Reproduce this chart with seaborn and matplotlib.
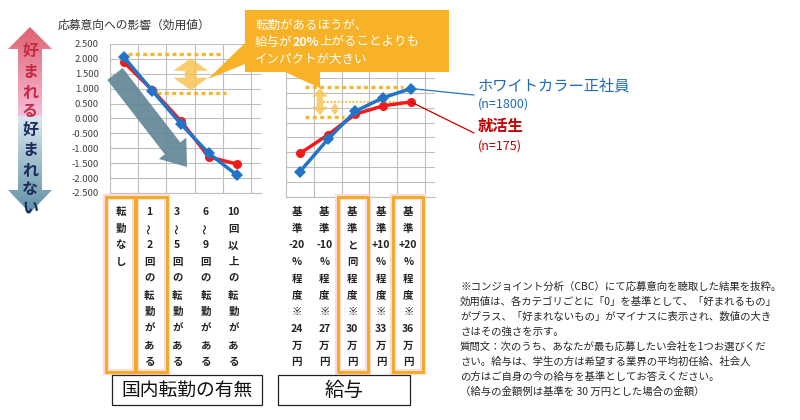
import numpy as np
import pandas as pd
import matplotlib.pyplot as plt
import matplotlib.patches as mpatches
import seaborn as sns

# utility values
groups = ['ホワイトカラー正社員', '就活生']
group_n = ['(n=1800)', '(n=175)']

transfer_levels = ['転勤なし', '1~2回', '3~5回', '6~9回', '10回以上']
transfer_white = [2.05, 0.93, -0.17, -1.17, -1.90]
transfer_student = [1.88, 0.95, -0.07, -1.29, -1.53]

salary_levels = ['基準-20%', '基準-10%', '基準と同程度', '基準+10%', '基準+20%']
salary_white = [-1.65, -0.57, 0.38, 0.83, 1.14]
salary_student = [-1.04, -0.42, 0.28, 0.56, 0.69]

# vertical category labels, one token per row
transfer_tokens = [
    ['転', '勤', 'な', 'し'],
    ['1', '～', '2', '回', 'の', '転', '勤', 'が', 'あ', 'る'],
    ['3', '～', '5', '回', 'の', '転', '勤', 'が', 'あ', 'る'],
    ['6', '～', '9', '回', 'の', '転', '勤', 'が', 'あ', 'る'],
    ['10', '回', '以', '上', 'の', '転', '勤', 'が', 'あ', 'る'],
]
salary_tokens = [
    ['基', '準', '-20', '%', '程', '度', '※', '24', '万', '円'],
    ['基', '準', '-10', '%', '程', '度', '※', '27', '万', '円'],
    ['基', '準', 'と', '同', '程', '度', '※', '30', '万', '円'],
    ['基', '準', '+10', '%', '程', '度', '※', '33', '万', '円'],
    ['基', '準', '+20', '%', '程', '度', '※', '36', '万', '円'],
]
chart_titles = ['国内転勤の有無', '給与']
y_title = '応募意向への影響（効用値）'
callout_lines = ['転勤があるほうが、', '給与が', '20%', '上がることよりも', 'インパクトが大きい']
note_lines = [
    '※コンジョイント分析（CBC）にて応募意向を聴取した結果を抜粋。',
    '効用値は、各カテゴリごとに「0」を基準として、「好まれるもの」',
    'がプラス、「好まれないもの」がマイナスに表示され、数値の大き',
    'さはその強さを示す。',
    '質問文：次のうち、あなたが最も応募したい会社を1つお選びくだ',
    'さい。給与は、学生の方は希望する業界の平均初任給、社会人',
    'の方はご自身の今の給与を基準としてお答えください。',
    '（給与の金額例は基準を 30 万円とした場合の金額）',
]

BLUE = '#2374C6'
RED = '#F51A1A'
GRID = '#BFBFBF'
DOT = '#F5B730'
ORANGE = '#F7B228'
BOX = '#F5A81C'

sns.set_style('white')
plt.rcParams['font.family'] = ['Noto Sans CJK JP', 'DejaVu Sans']
plt.rcParams['axes.unicode_minus'] = False


def make_frame(levels, white, student):
    rows = []
    for i, lv in enumerate(levels):
        rows.append({'pos': i, 'level': lv, 'group': groups[0], 'utility': white[i]})
        rows.append({'pos': i, 'level': lv, 'group': groups[1], 'utility': student[i]})
    return pd.DataFrame(rows)


def draw_chart(ax, df, show_ylabels):
    order = [groups[1], groups[0]]
    sns.lineplot(data=df, x='pos', y='utility', hue='group', style='group',
                 hue_order=order, style_order=order,
                 palette={groups[0]: BLUE, groups[1]: RED},
                 markers={groups[0]: 'D', groups[1]: 'o'}, dashes=False,
                 lw=2.5, markersize=6.5, markeredgewidth=0, legend=False, ax=ax)
    for ln in ax.lines:
        ln.set_zorder(5)
    ax.set_xlim(-0.5, 4.85)
    ax.set_ylim(-2.5, 2.5)
    ax.set_yticks(np.arange(-2.5, 2.51, 0.5))
    ax.set_xticks([])
    ax.set_xticks(np.arange(-0.5, 4.6, 1), minor=True)
    ax.set_xticklabels([], minor=True)
    ax.grid(True, which='major', axis='y', color=GRID, lw=0.8)
    ax.grid(True, which='minor', axis='x', color=GRID, lw=0.8)
    ax.tick_params(axis='x', which='minor', length=4, color=GRID, direction='out')
    ax.tick_params(axis='y', length=0, pad=8, labelsize=6.8, labelcolor='#404040')
    if show_ylabels:
        ax.set_yticklabels([f'{v:.3f}' for v in np.arange(-2.5, 2.51, 0.5)])
    else:
        ax.set_yticklabels([])
    for side in ['top', 'right']:
        ax.spines[side].set_visible(False)
    for side in ['left', 'bottom']:
        ax.spines[side].set_color(GRID)
        ax.spines[side].set_linewidth(0.8)
    ax.set_xlabel('')
    ax.set_ylabel('')


def dotted(ax, x0, x1, y, lw=2.4):
    ax.plot([x0, x1], [y, y], color=DOT, lw=lw, dashes=(1.2, 1.0), solid_capstyle='butt', zorder=3)


def double_arrow(ax, x, y0, y1, hw, hl, tw, color='#F8C354'):
    mid = (y0 + y1) / 2
    style = f'simple,head_width={hw},head_length={hl},tail_width={tw}'
    for end in (y0, y1):
        ax.add_patch(mpatches.FancyArrowPatch((x, mid), (x, end), arrowstyle=style,
                                              color=color, alpha=0.85, lw=0,
                                              shrinkA=0, shrinkB=0, zorder=4))


fig = plt.figure(figsize=(8, 4.2), dpi=100)
W, H = 800, 420

ax_l = fig.add_axes([110 / W, 1 - 193 / H, 151 / W, 149 / H])
ax_r = fig.add_axes([286 / W, 1 - 197 / H, 148.5 / W, 149 / H])

draw_chart(ax_l, make_frame(transfer_levels, transfer_white, transfer_student), True)
draw_chart(ax_r, make_frame(salary_levels, salary_white, salary_student), False)

# guides inside the charts
dotted(ax_l, 0.14, 3.43, 2.16)
dotted(ax_l, 1.18, 3.6, 0.85)
double_arrow(ax_l, 2.36, 2.02, 0.95, 25, 9, 8.5)

dotted(ax_r, 0.18, 3.7, 1.2)
dotted(ax_r, 0.18, 1.6, 0.19)
dotted(ax_r, 0.83, 3.7, 0.69, lw=1.2)
double_arrow(ax_r, 0.72, 1.15, 0.25, 11, 6, 4.5)
double_arrow(ax_r, 1.26, 0.65, 0.25, 6, 4, 2)

# overlay in pixel coordinates
ov = fig.add_axes([0, 0, 1, 1], zorder=10)
ov.set_xlim(0, W)
ov.set_ylim(H, 0)
ov.axis('off')
ov.patch.set_alpha(0)

# left double arrow with gradient
verts = [(30, 27), (52, 49), (42, 49), (42, 190), (52, 190), (30, 213),
         (8, 190), (18, 190), (18, 49), (8, 49), (30, 27)]
arrow_poly = mpatches.Polygon(verts, closed=True, facecolor='none', edgecolor='none')
ov.add_patch(arrow_poly)
ys = np.linspace(27, 213, 300)
stops_y = [27, 115, 117, 213]
stops_c = [(0.87, 0.39, 0.44), (0.97, 0.74, 0.85), (0.85, 0.91, 0.93), (0.37, 0.56, 0.65)]
grad = np.zeros((300, 2, 3))
for ch in range(3):
    grad[:, :, ch] = np.interp(ys, stops_y, [c[ch] for c in stops_c])[:, None]
img = ov.imshow(grad, extent=(8, 52, 213, 27), origin='upper', aspect='auto', zorder=1)
img.set_clip_path(arrow_poly)
for ch, y in zip('好まれる', [51, 72, 92, 111]):
    ov.text(30, y, ch, ha='center', va='center', fontsize=11.5, fontweight='bold', color='#C42A48', zorder=2)
for ch, y in zip('好まれない', [130, 150, 170, 189, 207]):
    ov.text(30, y, ch, ha='center', va='center', fontsize=11.5, fontweight='bold', color='#1C2B5C', zorder=2)
ov.set_xlim(0, W)
ov.set_ylim(H, 0)

ov.text(58, 25, y_title, ha='left', va='center', fontsize=8.5, color='#333333')

# big slanted arrow
ov.add_patch(mpatches.FancyArrowPatch((115, 74), (187, 167),
                                      arrowstyle='simple,head_width=25,head_length=17,tail_width=14',
                                      color='#5F8595', alpha=0.9, lw=0, shrinkA=0, shrinkB=0, zorder=2))

# callout
callout = [(245, 10), (449, 10), (449, 72), (320, 72), (320, 88), (285, 72),
           (245, 72), (245, 64), (208, 79), (245, 43)]
ov.add_patch(mpatches.Polygon(callout, closed=True, facecolor=ORANGE, edgecolor='none', zorder=3))
ov.text(255, 25, callout_lines[0], ha='left', va='center', fontsize=9, color='white', zorder=4)
t1 = ov.text(255, 42, callout_lines[1], ha='left', va='center', fontsize=9, color='white', zorder=4)
t2 = ov.annotate(callout_lines[2], xy=(1, 0.5), xycoords=t1, ha='left', va='center',
                 fontsize=9, fontweight='bold', color='white', zorder=4)
ov.annotate(callout_lines[3], xy=(1, 0.5), xycoords=t2, ha='left', va='center',
            fontsize=9, color='white', zorder=4)
ov.text(255, 59, callout_lines[4], ha='left', va='center', fontsize=9, color='white', zorder=4)

# series labels with leader lines
for val, yb, col in [(salary_white[-1], 95, BLUE), (salary_student[-1], 133, '#C00000')]:
    con = mpatches.ConnectionPatch(xyA=(4, val), coordsA=ax_r.transData,
                                   xyB=(474, yb), coordsB=ov.transData, color=col, lw=0.9)
    fig.add_artist(con)
ov.text(478, 86, groups[0], ha='left', va='center', fontsize=11, color='#1E6CB8')
ov.text(478, 104, group_n[0], ha='left', va='center', fontsize=9, color='#1E6CB8')
ov.text(478, 126, groups[1], ha='left', va='center', fontsize=11, fontweight='bold', color='#C00000')
ov.text(478, 146, group_n[1], ha='left', va='center', fontsize=9, color='#C00000')


# vertical category labels
def stack_labels(xs, token_lists):
    for x, tokens in zip(xs, token_lists):
        for k, tok in enumerate(tokens):
            rot = 90 if tok == '～' else 0
            ov.text(x, 212 + 16.7 * k, tok, ha='center', va='center', fontsize=7.5,
                    fontweight='bold', color='#222222', rotation=rot)


stack_labels([120.7, 149.3, 177.3, 205.7, 233.3], transfer_tokens)
stack_labels([296.7, 324.3, 352.3, 381, 408.3], salary_tokens)

for x0, x1 in [(106, 135), (136, 167), (338, 368), (393, 423)]:
    ov.add_patch(mpatches.Rectangle((x0, 197), x1 - x0, 175, fill=False,
                                    edgecolor='#FADCDC', lw=4.5, zorder=1))
    ov.add_patch(mpatches.Rectangle((x0, 197), x1 - x0, 175, fill=False,
                                    edgecolor=BOX, lw=2.0, zorder=2))

for (x0, w), title, fs in zip([(112, 150), (278, 132)], chart_titles, [13.5, 14]):
    ov.add_patch(mpatches.Rectangle((x0, 375), w, 30, fill=False, edgecolor='#222222', lw=0.9))
    ov.text(x0 + w / 2, 390, title, ha='center', va='center', fontsize=fs, color='#111111')

for i, line in enumerate(note_lines):
    ov.text(460, 287 + 15 * i, line, ha='left', va='center', fontsize=7.5, color='#262626')

fig.savefig('out.png', dpi=100)
